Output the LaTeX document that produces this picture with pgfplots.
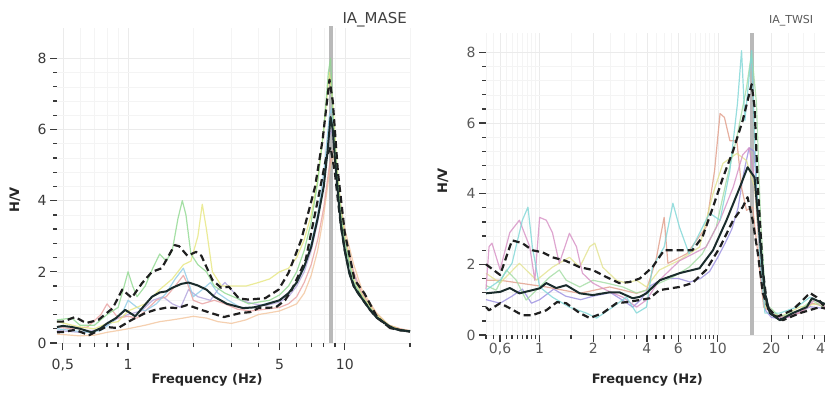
\documentclass[border=0pt]{standalone}
\usepackage{pgfplots}
\pgfplotsset{compat=1.18}
\usepackage{fontspec}
\setmainfont{DejaVu Sans}
\definecolor{cgreen}{HTML}{8FD88F}
\definecolor{cyellow}{HTML}{E6E67E}
\definecolor{cblue}{HTML}{8ECAE6}
\definecolor{cpink}{HTML}{E8A0A0}
\definecolor{cpurple}{HTML}{B0A2DC}
\definecolor{corange}{HTML}{F2C49C}
\definecolor{rpink}{HTML}{D68FC4}
\definecolor{rcyan}{HTML}{7ED6D6}
\definecolor{rgreen}{HTML}{A2DCA2}
\definecolor{ryellow}{HTML}{E2E28E}
\definecolor{rsalmon}{HTML}{E09C88}
\definecolor{rviolet}{HTML}{9A8EE0}
\definecolor{meanc}{HTML}{1A2C2C}
\definecolor{tickc}{HTML}{3A3A3A}
\tikzset{
  colline/.style={line width=1.2pt, line join=round, opacity=0.8},
  dashline/.style={line width=2.2pt, black!88, dash pattern=on 7pt off 4pt, line join=round},
  meanline/.style={line width=2pt, meanc, line join=round},
}
\begin{document}
\begin{tikzpicture}
\useasboundingbox (0,0) rectangle (825pt,394pt);
% ---------------- left panel ----------------
\begin{axis}[
  scale only axis, xmode=log, log basis x=10,
  axis line style={draw=none},
  xtick pos=bottom, ytick pos=left, tick align=outside,
  major tick length=7pt, minor tick length=4pt,
  tick style={tickc, line width=1.3pt},
  grid=both, major grid style={gray!16, line width=0.5pt}, minor grid style={gray!9, line width=0.4pt},
  ymin=0, ytick={0,2,4,6,8}, minor y tick num=4,
  /pgf/number format/assume math mode=true,
  tick label style={font=\fontsize{14}{16}\selectfont, text=tickc},
  xticklabel style={yshift=-6pt},
  xlabel={\bfseries Frequency (Hz)}, ylabel={\bfseries H/V},
  label style={font=\fontsize{13}{15}\selectfont, text=black!85},
  clip=false,
  at={(57pt,51pt)}, anchor=south west, width=353pt, height=315pt,
  xmin=0.47, xmax=20, ymax=8.85,
  xtick={1,5,10,0.5}, xticklabels={1,5,10,{0,5}},
  minor xtick={0.6,0.7,0.8,0.9,2,3,4,6,7,8,9,20},
  xlabel style={at={(axis description cs:0.425,-0.117)}, anchor=center},
  ylabel style={at={(axis description cs:-0.119,0.454)}, anchor=center},
  title={IA\_MASE}, title style={at={(axis description cs:0.90,1.007)}, anchor=center, font=\fontsize{15}{17}\selectfont, text=black!75},
]
\addplot[gray!55, line width=4pt, forget plot] coordinates {(8.6,0) (8.6,8.9)};
\addplot[colline, corange] coordinates {(0.47,0.25)(0.6,0.2)(0.7,0.22)(0.8,0.3)(0.9,0.35)(1.0,0.4)(1.2,0.5)(1.4,0.6)(1.6,0.65)(1.8,0.7)(2.0,0.75)(2.3,0.7)(2.6,0.6)(3.0,0.55)(3.5,0.65)(4,0.8)(4.5,0.85)(5,0.9)(5.5,1.0)(6,1.1)(6.5,1.4)(7,1.9)(7.5,2.6)(8,3.6)(8.5,4.8)(8.8,5.3)(9.1,4.9)(9.5,4.0)(10,3.2)(11,2.2)(12,1.5)(13,1.15)(14,0.85)(16,0.5)(18,0.4)(20,0.35)};
\addplot[colline, cpurple] coordinates {(0.47,0.35)(0.6,0.3)(0.7,0.35)(0.8,0.5)(0.9,0.7)(1.0,0.8)(1.15,0.9)(1.3,1.2)(1.45,1.3)(1.6,1.1)(1.75,1.0)(1.9,1.5)(2.1,1.3)(2.4,1.2)(2.6,1.5)(2.8,1.7)(3.0,1.5)(3.3,1.2)(3.8,1.1)(4.3,1.05)(5,1.15)(5.5,1.3)(6,1.6)(6.5,2.0)(7,2.6)(7.5,3.4)(8,4.5)(8.5,5.8)(8.7,6.0)(9,5.3)(9.4,4.2)(10,2.9)(11,1.9)(12,1.35)(13,1.05)(14,0.8)(16,0.5)(18,0.37)(20,0.33)};
\addplot[colline, cpink] coordinates {(0.47,0.45)(0.55,0.4)(0.65,0.45)(0.75,0.8)(0.8,1.1)(0.85,0.9)(0.9,0.7)(1.0,0.75)(1.1,0.7)(1.2,0.9)(1.35,1.2)(1.5,1.3)(1.65,1.6)(1.8,1.9)(1.9,1.6)(2.0,1.2)(2.2,1.1)(2.5,1.2)(2.8,1.1)(3.2,0.95)(3.7,0.9)(4.3,0.95)(5,1.0)(5.5,1.1)(6,1.3)(6.5,1.7)(7,2.2)(7.5,2.9)(8,3.8)(8.5,5.0)(8.9,5.5)(9.2,4.8)(9.6,3.8)(10,3.0)(11,2.0)(12,1.4)(13,1.1)(14,0.8)(16,0.5)(18,0.4)(20,0.33)};
\addplot[colline, cblue] coordinates {(0.47,0.4)(0.55,0.35)(0.65,0.3)(0.75,0.35)(0.85,0.6)(0.95,0.9)(1.0,1.2)(1.1,1.0)(1.2,0.9)(1.35,1.1)(1.5,1.4)(1.65,1.8)(1.8,2.1)(1.9,1.7)(2.0,1.3)(2.2,1.5)(2.4,1.7)(2.6,1.4)(2.9,1.2)(3.3,1.0)(3.8,1.0)(4.3,1.1)(5,1.2)(5.5,1.4)(6,1.7)(6.5,2.1)(7,2.8)(7.5,3.6)(8,4.8)(8.5,6.4)(8.7,6.6)(9,5.5)(9.4,4.2)(10,2.8)(11,1.7)(12,1.3)(13,1.0)(14,0.75)(16,0.45)(18,0.37)(20,0.32)};
\addplot[colline, cyellow] coordinates {(0.47,0.6)(0.6,0.45)(0.7,0.4)(0.8,0.55)(0.9,0.6)(1.0,0.9)(1.2,1.1)(1.4,1.5)(1.6,1.8)(1.8,2.2)(1.95,2.3)(2.1,3.0)(2.2,3.9)(2.3,3.2)(2.45,2.0)(2.7,1.6)(3.0,1.6)(3.5,1.6)(4,1.7)(4.5,1.8)(5,2.0)(5.5,2.1)(6,2.4)(6.5,2.9)(7,3.6)(7.5,4.6)(8,6.0)(8.5,7.6)(8.8,6.8)(9.2,5.0)(9.6,3.8)(10,3.0)(11,1.8)(12,1.35)(13,1.05)(14,0.8)(16,0.5)(18,0.38)(20,0.33)};
\addplot[colline, cgreen] coordinates {(0.47,0.65)(0.55,0.7)(0.6,0.5)(0.7,0.5)(0.8,0.8)(0.9,1.0)(0.95,1.5)(1.0,2.0)(1.05,1.6)(1.1,1.3)(1.2,1.6)(1.3,2.1)(1.4,2.5)(1.5,2.3)(1.6,2.6)(1.7,3.5)(1.78,4.0)(1.85,3.6)(1.95,2.5)(2.1,2.2)(2.3,2.0)(2.5,1.6)(2.8,1.4)(3.2,1.25)(3.6,1.1)(4,1.15)(4.5,1.2)(5,1.35)(5.5,1.6)(6,2.0)(6.5,2.6)(7,3.4)(7.5,4.5)(8,6.0)(8.4,7.6)(8.6,8.0)(8.8,6.5)(9.2,4.8)(9.6,3.6)(10,2.8)(11,1.7)(12,1.3)(13,1.0)(14,0.75)(16,0.45)(18,0.37)(20,0.33)};
\addplot[dashline] coordinates {(0.47,0.3)(0.5,0.31)(0.57,0.37)(0.66,0.22)(0.79,0.45)(0.9,0.42)(1.04,0.65)(1.2,0.84)(1.33,0.93)(1.52,1.0)(1.69,0.98)(1.88,1.07)(2.18,0.93)(2.42,0.84)(2.77,0.73)(3.0,0.78)(3.3,0.84)(3.68,0.87)(4.0,0.98)(4.8,1.0)(5.3,1.2)(5.7,1.5)(6.6,2.33)(7.5,4.0)(8.2,5.2)(8.6,5.5)(9.0,4.8)(9.3,4.0)(9.6,3.3)(10,2.6)(10.5,2.0)(11,1.6)(12,1.25)(13,0.95)(14,0.72)(16,0.45)(18,0.36)(20,0.32)};
\addplot[dashline] coordinates {(0.47,0.6)(0.5,0.6)(0.57,0.73)(0.64,0.56)(0.73,0.65)(0.85,0.98)(0.94,1.5)(1.04,1.27)(1.16,1.68)(1.29,2.0)(1.43,2.1)(1.64,2.75)(1.72,2.72)(1.88,2.45)(2.06,2.56)(2.18,2.45)(2.45,1.77)(2.69,1.55)(2.92,1.58)(3.25,1.25)(3.6,1.22)(4.3,1.26)(4.95,1.5)(5.5,1.97)(6.3,2.9)(7.3,4.4)(7.9,5.7)(8.5,7.4)(8.8,6.8)(9.3,4.8)(10,3.1)(11.1,1.77)(12.3,1.4)(14.1,0.73)(16.2,0.42)(18,0.36)(20,0.33)};
\addplot[meanline] coordinates {(0.47,0.45)(0.5,0.48)(0.55,0.45)(0.6,0.4)(0.68,0.3)(0.75,0.42)(0.8,0.55)(0.88,0.7)(0.97,0.93)(1.08,0.75)(1.15,0.95)(1.29,1.3)(1.4,1.42)(1.5,1.45)(1.6,1.55)(1.76,1.66)(1.9,1.7)(2.09,1.62)(2.3,1.5)(2.5,1.3)(2.86,1.1)(3.4,0.98)(3.8,1.0)(4.3,1.08)(5.0,1.2)(5.5,1.4)(6.0,1.7)(6.5,2.15)(7.0,2.7)(7.5,3.5)(8.0,4.4)(8.3,5.3)(8.6,6.35)(8.8,6.0)(9.0,5.2)(9.3,4.2)(9.6,3.3)(10,2.6)(10.5,1.95)(11,1.6)(11.5,1.4)(12,1.25)(12.5,1.1)(13,0.95)(14,0.72)(15,0.6)(16,0.48)(17,0.4)(18,0.36)(20,0.33)};
\end{axis}
% ---------------- right panel ----------------
\begin{axis}[
  scale only axis, xmode=log, log basis x=10,
  axis line style={draw=none},
  xtick pos=bottom, ytick pos=left, tick align=outside,
  major tick length=7pt, minor tick length=4pt,
  tick style={tickc, line width=1.3pt},
  grid=both, major grid style={gray!16, line width=0.5pt}, minor grid style={gray!9, line width=0.4pt},
  ymin=0, ytick={0,2,4,6,8}, minor y tick num=4,
  /pgf/number format/assume math mode=true,
  tick label style={font=\fontsize{14}{16}\selectfont, text=black!65},
  xticklabel style={yshift=2pt},
  xlabel={\bfseries Frequency (Hz)}, ylabel={\bfseries H/V},
  label style={font=\fontsize{13}{15}\selectfont, text=black!85},
  clip=false,
  at={(486pt,59pt)}, anchor=south west, width=339pt, height=302pt,
  xmin=0.5, xmax=40, ymax=8.55,
  xtick={0.6,1,2,4,6,10,20,40}, xticklabels={{0,6},1,2,4,6,10,20,40},
  minor xtick={0.5,0.55,0.65,0.7,0.75,0.8,0.85,0.9,0.95,1.5,2.5,3,3.5,4.5,5,5.5,7,7.5,8,8.5,9,9.5,25,30,35},
  xlabel style={at={(axis description cs:0.476,-0.149)}, anchor=center},
  ylabel style={at={(axis description cs:-0.127,0.51)}, anchor=center},
  title={IA\_TWSI}, title style={at={(axis description cs:0.90,1.02)}, anchor=center, font=\fontsize{11}{13}\selectfont, text=black!65},
]
\addplot[gray!55, line width=4pt, forget plot] coordinates {(15.5,0) (15.5,8.55)};
\addplot[colline, rviolet] coordinates {(0.5,1.0)(0.6,0.9)(0.7,1.1)(0.8,1.3)(0.9,0.9)(1.0,1.0)(1.2,1.3)(1.4,1.1)(1.7,1.0)(2.0,1.1)(2.5,1.2)(3.0,0.95)(3.33,0.79)(3.7,1.0)(4.2,1.4)(5,1.6)(6,1.6)(7,1.5)(8,1.6)(9,1.8)(10,2.2)(11,2.6)(12,3.0)(13,3.6)(14,4.6)(15,5.3)(16,5.2)(16.8,3.5)(17.5,1.6)(18.5,0.7)(20,0.5)(23,0.45)(28,0.6)(33,0.8)(40,0.75)};
\addplot[colline, rsalmon] coordinates {(0.5,1.55)(0.6,1.55)(0.77,1.47)(1.09,1.36)(1.68,1.18)(2.47,1.36)(3.5,1.18)(3.98,1.27)(4.5,2.12)(5.0,3.33)(5.25,2.03)(6.7,2.3)(8.6,3.05)(9.6,4.66)(10.3,6.27)(10.9,6.16)(11.7,5.5)(12.8,5.5)(13.6,4.18)(14.5,3.53)(15.7,3.62)(16.8,2.3)(18.1,0.79)(22.3,0.51)(28.9,0.62)(34,0.9)(40,0.8)};
\addplot[colline, ryellow] coordinates {(0.5,1.75)(0.6,1.47)(0.77,2.03)(0.96,1.55)(1.18,1.92)(1.47,2.2)(1.68,1.92)(1.91,2.5)(2.04,2.6)(2.26,1.92)(2.7,1.55)(3.07,1.47)(3.5,1.55)(3.98,1.36)(4.7,1.84)(6.1,2.12)(7.9,2.49)(9.4,4.0)(10.7,4.86)(12.8,5.14)(14.5,4.94)(16.1,4.18)(17.2,2.3)(18.6,0.79)(22.3,0.51)(28.9,0.79)(37.4,0.9)(40,0.85)};
\addplot[colline, rgreen] coordinates {(0.5,1.4)(0.57,1.27)(0.65,1.84)(0.74,1.55)(0.84,0.99)(0.96,1.27)(1.14,1.64)(1.29,1.84)(1.41,1.55)(1.68,1.36)(1.99,1.55)(2.37,1.47)(2.93,1.36)(3.5,1.19)(3.98,1.27)(4.7,1.47)(5.6,1.64)(6.9,1.92)(8.2,2.3)(9.8,3.05)(11.2,4.38)(12.8,5.6)(14.5,7.0)(15.5,8.0)(16.5,6.55)(17.4,3.25)(18.6,0.9)(22.3,0.51)(28.9,0.71)(33.8,0.99)(39,0.79)(40,0.8)};
\addplot[colline, rpink] coordinates {(0.5,1.3)(0.52,2.5)(0.54,2.6)(0.6,1.85)(0.68,2.9)(0.77,3.25)(0.88,2.5)(0.94,1.55)(1.0,3.33)(1.09,3.25)(1.18,2.9)(1.29,2.03)(1.47,2.88)(1.61,2.5)(1.74,1.75)(1.99,1.47)(2.37,1.27)(2.93,1.07)(3.5,0.79)(3.98,0.99)(4.7,1.55)(6.1,2.1)(8.6,2.49)(10.3,3.25)(12.2,4.18)(13.8,5.1)(15,5.3)(16.1,4.4)(17.2,2.3)(18.8,0.9)(21,0.5)(25,0.5)(30,0.7)(35,1.0)(40,0.8)};
\addplot[colline, rcyan] coordinates {(0.5,1.27)(0.6,1.55)(0.7,2.03)(0.8,3.25)(0.86,3.62)(0.91,2.5)(1.0,1.36)(1.18,1.07)(1.47,0.79)(1.83,0.62)(2.09,0.48)(2.57,0.79)(3.07,1.07)(3.5,0.62)(3.98,0.79)(4.3,1.92)(5.0,2.49)(5.6,3.73)(6.1,3.05)(6.9,2.3)(7.9,2.88)(9.0,3.45)(10.3,3.25)(11.7,4.66)(12.9,6.55)(13.6,8.05)(14.2,6.07)(15.5,8.05)(16.1,5.6)(17.2,2.3)(18.4,0.62)(22.3,0.62)(27.8,0.79)(32.9,1.07)(39,0.9)(40,0.88)};
\addplot[dashline] coordinates {(0.5,0.79)(0.52,0.7)(0.6,0.9)(0.68,0.76)(0.8,0.56)(0.91,0.56)(1.09,0.7)(1.25,0.93)(1.41,0.9)(1.68,0.62)(1.91,0.48)(2.26,0.62)(2.7,0.9)(3.07,0.93)(3.65,0.99)(4.15,1.04)(4.7,1.27)(6.1,1.36)(7.2,1.47)(8.6,1.84)(10.3,2.49)(12.2,3.25)(13.8,3.62)(14.7,3.9)(15.7,3.25)(16.8,2.3)(17.9,1.19)(19.6,0.62)(23.2,0.42)(28.9,0.62)(37.4,0.79)(40,0.75)};
\addplot[dashline] coordinates {(0.5,2.0)(0.6,1.7)(0.7,2.68)(0.8,2.6)(0.91,2.4)(1.04,2.34)(1.18,2.2)(1.4,2.1)(1.68,1.92)(1.99,1.84)(2.37,1.64)(2.8,1.47)(3.2,1.5)(3.65,1.6)(4.3,1.92)(5.0,2.4)(5.9,2.4)(7.2,2.4)(8.2,2.77)(9.4,3.62)(10.7,4.46)(12.2,5.22)(13.8,6.07)(15.5,7.1)(16.1,6.44)(16.8,4.18)(17.9,1.84)(19.0,0.79)(21.4,0.51)(26.4,0.71)(32.9,1.19)(35.9,1.07)(39,0.85)(40,0.85)};
\addplot[meanline] coordinates {(0.5,1.18)(0.6,1.22)(0.68,1.33)(0.77,1.18)(1.0,1.32)(1.09,1.47)(1.24,1.33)(1.41,1.41)(1.68,1.18)(1.99,1.13)(2.47,1.21)(2.8,1.21)(3.33,1.04)(3.65,1.08)(3.98,1.18)(4.72,1.55)(6.1,1.75)(7.9,1.89)(9.4,2.4)(11.2,3.25)(13.3,4.18)(14.7,4.75)(16.1,4.46)(17.2,2.77)(18.4,1.19)(19.6,0.62)(22.3,0.42)(26.4,0.62)(31.6,0.79)(33.8,1.04)(39,0.9)(40,0.88)};
\end{axis}
\end{tikzpicture}
\end{document}
